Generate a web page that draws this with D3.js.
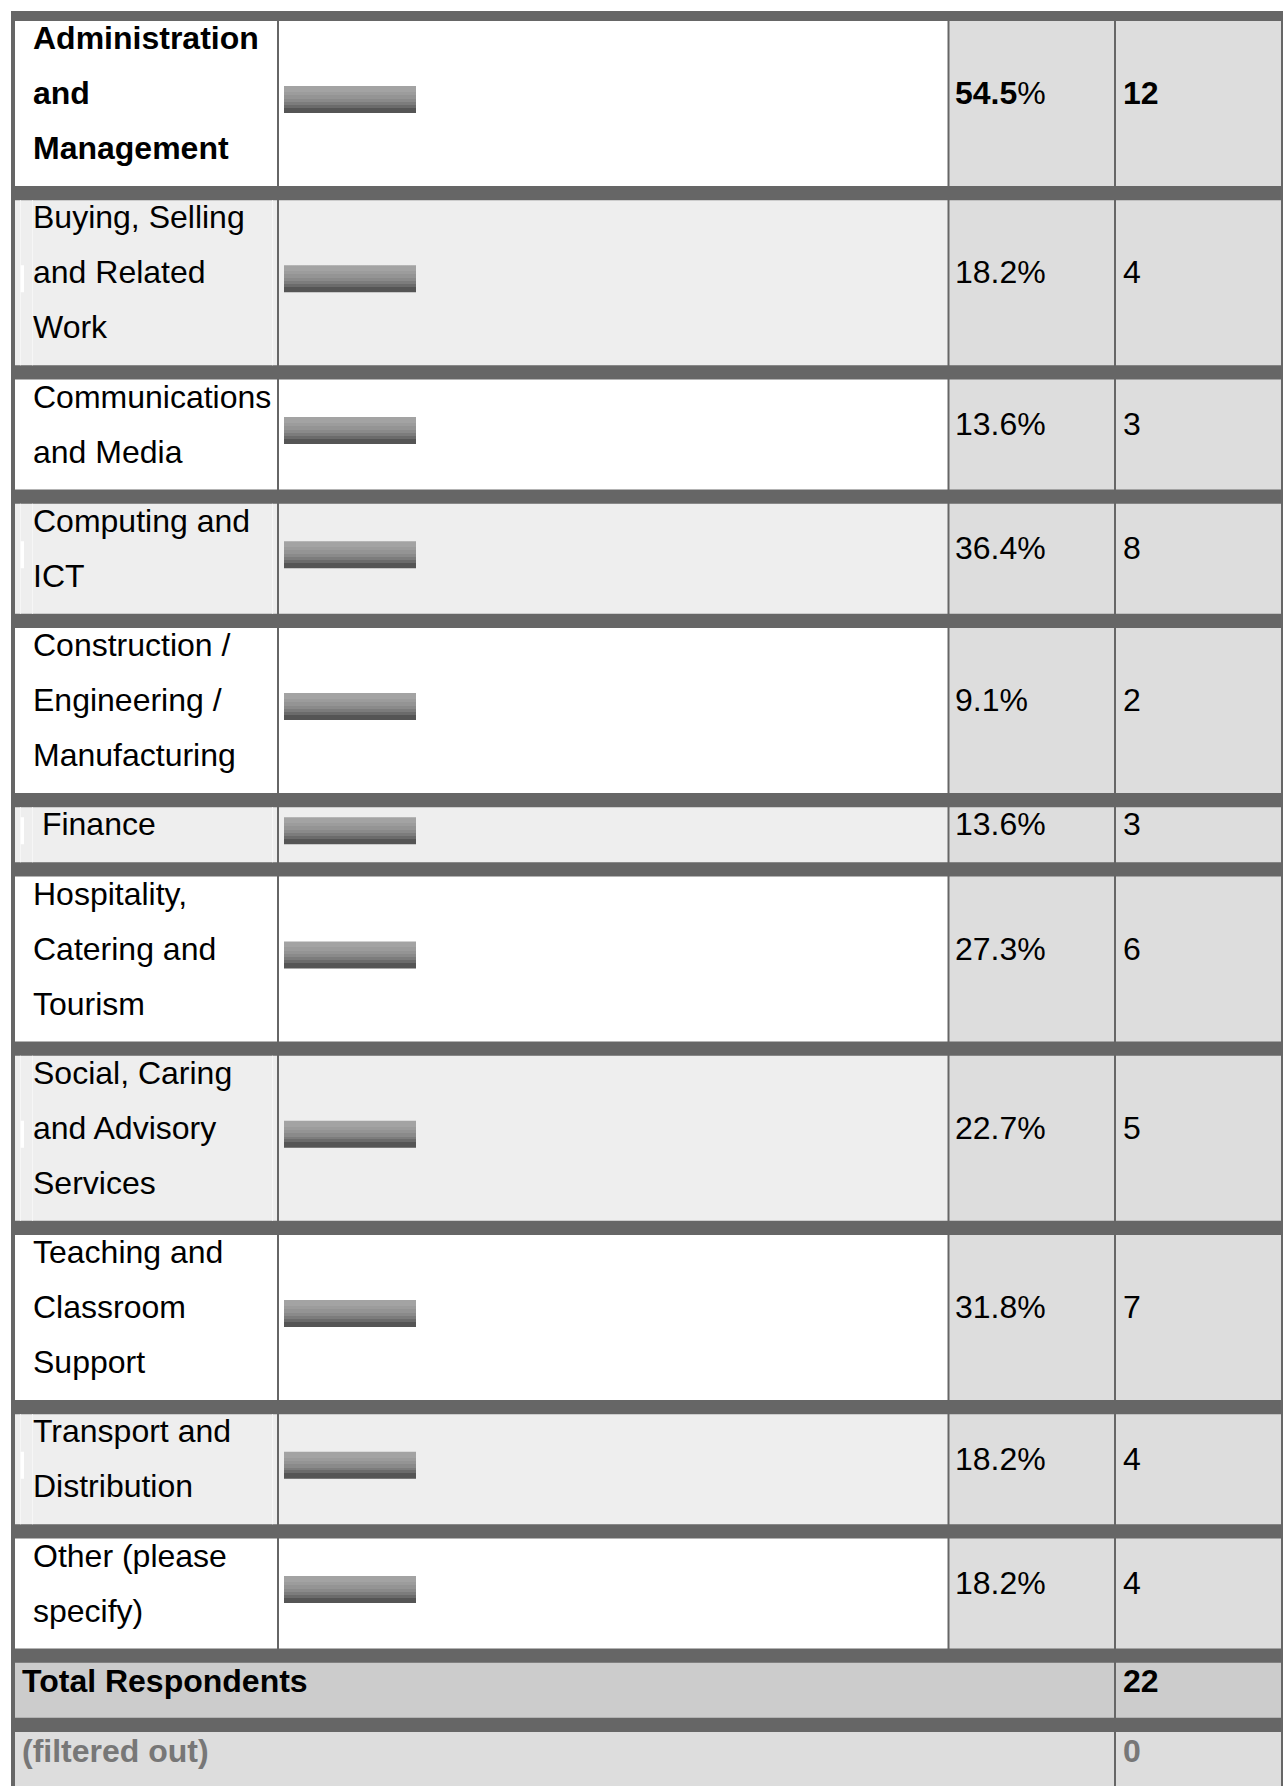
<!DOCTYPE html>
<html>
<head>
<meta charset="utf-8">
<script src="https://cdn.jsdelivr.net/npm/d3@7"></script>
<style>
  body { margin: 0; background: #fff; }
  svg { display: block; }
  text { font-family: "Liberation Sans", Arial, sans-serif; font-size: 32px; }
</style>
</head>
<body>
<div id="chart"></div>
<script>

// ### DATA

var categories = [
  'Administration and Management',
  'Buying, Selling and Related Work',
  'Communications and Media',
  'Computing and ICT',
  'Construction / Engineering / Manufacturing',
  ' Finance',
  'Hospitality, Catering and Tourism',
  'Social, Caring and Advisory Services',
  'Teaching and Classroom Support',
  'Transport and Distribution',
  'Other (please specify)'
];
var percents = [54.5, 18.2, 13.6, 36.4, 9.1, 13.6, 27.3, 22.7, 31.8, 18.2, 18.2];
var counts = [12, 4, 3, 8, 2, 3, 6, 5, 7, 4, 4];
var totalRespondents = 22;
var filteredOut = 0;

// ### LAYOUT

var width = 1283, height = 1786;
var tableLeft = 11, tableTop = 11;
var lineH = 55, band = 14.25, rowTop0 = 21;
var wrapWidth = 244;

// column edges (cells sit on the dark table background, gaps make the rules)
var cols = {
  label: [15, 277],
  bar: [279, 947.5],
  pct: [949.5, 1114],
  count: [1116, 1281]
};
var barX = 284, barW = 132, barH = 27; // every bar image renders at the same size in the source

var svg = d3.select('#chart').append('svg')
  .attr('width', width)
  .attr('height', height);

// stepped grey gradient of the bar image
var grad = svg.append('defs').append('linearGradient')
  .attr('id', 'barGrad')
  .attr('x1', 0).attr('y1', 0).attr('x2', 0).attr('y2', 1);
var steps = [
  [0, 0.22, '#a3a3a3'],
  [0.22, 0.34, '#9c9c9c'],
  [0.34, 0.47, '#949494'],
  [0.47, 0.59, '#8a8a8a'],
  [0.59, 0.69, '#7c7c7c'],
  [0.69, 0.8, '#6b6b6b'],
  [0.8, 1, '#555555']
];
steps.forEach(function(s) {
  grad.append('stop').attr('offset', s[0]).attr('stop-color', s[2]);
  grad.append('stop').attr('offset', s[1]).attr('stop-color', s[2]);
});

// table background = the dark rules
svg.append('rect')
  .attr('x', tableLeft).attr('y', tableTop)
  .attr('width', width - tableLeft + 10).attr('height', height - tableTop + 10)
  .attr('fill', '#666666');

// word wrap with a measuring text node
var measure = svg.append('text').attr('x', -9999).attr('y', -9999);
function wrap(str, bold) {
  measure.attr('font-weight', bold ? 'bold' : 'normal');
  var lead = str.match(/^\s*/)[0];
  var words = str.trim().split(/\s+/);
  var lines = [], line = lead;
  words.forEach(function(w) {
    var test = (line.trim() ? line + ' ' : line) + w;
    measure.text(test);
    if (line.trim() && measure.node().getComputedTextLength() > wrapWidth) {
      lines.push(line);
      line = w;
    } else {
      line = test;
    }
  });
  lines.push(line);
  return lines;
}

var maxCount = d3.max(counts);

var rows = categories.map(function(c, i) {
  var bold = counts[i] === maxCount;
  return { label: c, lines: wrap(c, bold), pct: percents[i], count: counts[i], bold: bold, i: i };
});
measure.remove();

var y = rowTop0;
rows.forEach(function(r) {
  r.y = y;
  r.h = r.lines.length * lineH;
  y += r.h + band;
});
var totalTop = y;
var filteredTop = totalTop + lineH + band;

// ### ROWS

var row = svg.selectAll('g.row')
  .data(rows)
  .enter().append('g')
  .attr('class', 'row')
  .attr('transform', function(d) { return 'translate(0,' + d.y + ')'; });

['label', 'bar'].forEach(function(k) {
  row.append('rect')
    .attr('x', cols[k][0]).attr('y', 0)
    .attr('width', cols[k][1] - cols[k][0])
    .attr('height', function(d) { return d.h; })
    .attr('fill', function(d) { return d.i % 2 ? '#eeeeee' : '#ffffff'; });
});
['pct', 'count'].forEach(function(k) {
  row.append('rect')
    .attr('x', cols[k][0]).attr('y', 0)
    .attr('width', cols[k][1] - cols[k][0])
    .attr('height', function(d) { return d.h; })
    .attr('fill', '#dddddd');
});

// faint spacer artefacts in the label cell
row.filter(function(d) { return d.i % 2; }).each(function(d) {
  var g = d3.select(this);
  [20, 32, 272].forEach(function(x) {
    g.append('rect').attr('x', x).attr('y', 0).attr('width', 1).attr('height', d.h).attr('fill', '#f6f6f6');
  });
});
row.append('rect')
  .attr('x', 20.7).attr('width', 3.3).attr('height', barH)
  .attr('y', function(d) { return d.h / 2 - 17.5; })
  .attr('fill', '#ffffff');

// bars
row.append('rect')
  .attr('class', 'bar')
  .attr('x', barX)
  .attr('y', function(d) { return d.h / 2 - 17.5; })
  .attr('width', barW)
  .attr('height', barH)
  .attr('fill', 'url(#barGrad)');

// labels
row.append('text')
  .attr('font-weight', function(d) { return d.bold ? 'bold' : 'normal'; })
  .attr('xml:space', 'preserve')
  .style('white-space', 'pre')
  .selectAll('tspan')
  .data(function(d) { return d.lines; })
  .enter().append('tspan')
  .attr('x', 33)
  .attr('y', function(l, j) { return 28 + j * lineH; })
  .text(function(l) { return l; });

// percentages
var pctText = row.append('text')
  .attr('x', 955)
  .attr('y', function(d) { return d.h / 2 + 0.5; });
pctText.append('tspan')
  .attr('font-weight', function(d) { return d.bold ? 'bold' : 'normal'; })
  .text(function(d) { return d3.format('.1f')(d.pct); });
pctText.append('tspan').text('%');

// counts
row.append('text')
  .attr('x', 1123)
  .attr('y', function(d) { return d.h / 2 + 0.5; })
  .attr('font-weight', function(d) { return d.bold ? 'bold' : 'normal'; })
  .text(function(d) { return d.count; });

// ### FOOTER ROWS

var footer = [
  { y: totalTop, h: lineH, fill: '#cccccc', color: '#000000', label: 'Total Respondents', value: totalRespondents, base: 29.5 },
  { y: filteredTop, h: height - filteredTop + 10, fill: '#dddddd', color: '#777777', label: '(filtered out)', value: filteredOut, base: 30 }
];

var foot = svg.selectAll('g.foot')
  .data(footer)
  .enter().append('g')
  .attr('class', 'foot')
  .attr('transform', function(d) { return 'translate(0,' + d.y + ')'; });

foot.append('rect')
  .attr('x', cols.label[0]).attr('y', 0)
  .attr('width', cols.pct[1] - cols.label[0])
  .attr('height', function(d) { return d.h; })
  .attr('fill', function(d) { return d.fill; });
foot.append('rect')
  .attr('x', cols.count[0]).attr('y', 0)
  .attr('width', cols.count[1] - cols.count[0])
  .attr('height', function(d) { return d.h; })
  .attr('fill', function(d) { return d.fill; });

foot.append('text')
  .attr('x', 22)
  .attr('y', function(d) { return d.base; })
  .attr('font-weight', 'bold')
  .attr('fill', function(d) { return d.color; })
  .text(function(d) { return d.label; });
foot.append('text')
  .attr('x', 1123)
  .attr('y', function(d) { return d.base; })
  .attr('font-weight', 'bold')
  .attr('fill', function(d) { return d.color; })
  .text(function(d) { return d.value; });

</script>
</body>
</html>
